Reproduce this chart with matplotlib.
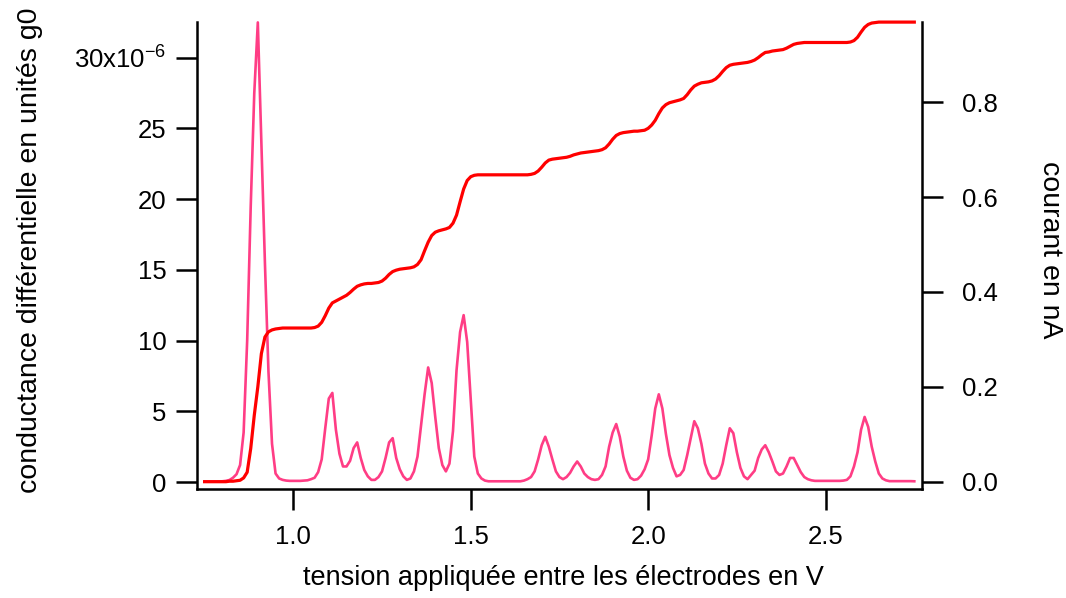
import numpy as np
import matplotlib
matplotlib.use("Agg")
import matplotlib.pyplot as plt
from matplotlib.ticker import FuncFormatter

plt.rcParams['font.family'] = ['Liberation Sans', 'DejaVu Sans']
plt.rcParams['mathtext.default'] = 'regular'

# bias sweep, 10 mV step
voltage = np.linspace(0.75, 2.75, 201)

# differential conductance, in units of 1e-6 g0
conductance = [
    0.03, 0.03, 0.03, 0.03, 0.04, 0.05, 0.08, 0.14, 0.3, 0.55,
    1.2, 3.5, 10.0, 19.5, 27.5, 32.5, 24.0, 15.5, 7.8, 2.7,
    0.6, 0.25, 0.15, 0.1, 0.08, 0.08, 0.08, 0.08, 0.1, 0.12,
    0.2, 0.3, 0.7, 1.6, 3.8, 5.9, 6.3, 3.7, 2.0, 1.1,
    1.1, 1.5, 2.4, 2.8, 1.7, 0.85, 0.4, 0.15, 0.15, 0.35,
    0.75, 1.7, 2.8, 3.1, 1.7, 0.9, 0.4, 0.15, 0.25, 0.75,
    1.8, 4.0, 6.2, 8.1, 7.0, 4.6, 2.4, 1.2, 0.75, 1.3,
    3.6, 7.9, 10.6, 11.8, 9.9, 5.8, 1.8, 0.6, 0.25, 0.1,
    0.05, 0.05, 0.05, 0.05, 0.05, 0.05, 0.05, 0.05, 0.05, 0.05,
    0.1, 0.2, 0.35, 0.75, 1.6, 2.6, 3.2, 2.5, 1.6, 0.75,
    0.35, 0.2, 0.35, 0.65, 1.1, 1.45, 1.1, 0.6, 0.35, 0.2,
    0.15, 0.2, 0.5, 1.1, 2.5, 3.5, 4.1, 3.2, 1.8, 0.8,
    0.3, 0.15, 0.2, 0.45, 0.9, 1.6, 3.3, 5.2, 6.2, 5.2,
    3.4, 1.9, 1.0, 0.4, 0.5, 0.85, 1.9, 3.1, 4.3, 3.8,
    2.7, 1.3, 0.6, 0.25, 0.25, 0.5, 1.3, 2.6, 3.8, 3.45,
    2.1, 1.0, 0.4, 0.2, 0.5, 0.8, 1.7, 2.3, 2.6, 2.1,
    1.45, 0.75, 0.5, 0.6, 1.1, 1.7, 1.7, 1.2, 0.7, 0.35,
    0.2, 0.12, 0.08, 0.08, 0.08, 0.08, 0.08, 0.08, 0.08, 0.08,
    0.1, 0.15, 0.4, 1.1, 2.1, 3.7, 4.6, 3.9, 2.5, 1.45,
    0.6, 0.25, 0.12, 0.06, 0.06, 0.06, 0.06, 0.06, 0.06, 0.06,
    0.05,
]

# current through the junction, nA
current = [
    0.0, 0.0, 0.0, 0.0, 0.0, 0.0, 0.0, 0.001, 0.001, 0.002,
    0.003, 0.008, 0.02, 0.07, 0.14, 0.20, 0.27, 0.305, 0.316, 0.32,
    0.322, 0.323, 0.324, 0.324, 0.324, 0.324, 0.324, 0.324, 0.324, 0.324,
    0.324, 0.325, 0.328, 0.336, 0.35, 0.366, 0.377, 0.381, 0.385, 0.389,
    0.393, 0.399, 0.406, 0.412, 0.415, 0.417, 0.418, 0.418, 0.419, 0.42,
    0.423, 0.429, 0.437, 0.443, 0.446, 0.448, 0.449, 0.45, 0.451, 0.453,
    0.458, 0.468, 0.487, 0.505, 0.519, 0.526, 0.529, 0.531, 0.533, 0.536,
    0.545, 0.562, 0.59, 0.617, 0.635, 0.643, 0.646, 0.647, 0.647, 0.647,
    0.647, 0.647, 0.647, 0.647, 0.647, 0.647, 0.647, 0.647, 0.647, 0.647,
    0.647, 0.647, 0.648, 0.65, 0.655, 0.663, 0.672, 0.678, 0.68, 0.681,
    0.682, 0.683, 0.684, 0.686, 0.689, 0.691, 0.693, 0.694, 0.695, 0.696,
    0.697, 0.698, 0.700, 0.704, 0.712, 0.722, 0.73, 0.734, 0.736, 0.737,
    0.738, 0.739, 0.739, 0.740, 0.741, 0.745, 0.752, 0.762, 0.776, 0.788,
    0.795, 0.799, 0.801, 0.803, 0.805, 0.808, 0.816, 0.826, 0.834, 0.838,
    0.841, 0.842, 0.843, 0.845, 0.849, 0.856, 0.865, 0.873, 0.878, 0.88,
    0.881, 0.882, 0.883, 0.884, 0.886, 0.889, 0.894, 0.9, 0.905, 0.906,
    0.908, 0.909, 0.91, 0.911, 0.914, 0.918, 0.922, 0.924, 0.925, 0.926,
    0.926, 0.926, 0.926, 0.926, 0.926, 0.926, 0.926, 0.926, 0.926, 0.926,
    0.926, 0.926, 0.927, 0.93, 0.937, 0.948, 0.958, 0.964, 0.967, 0.968,
    0.969, 0.969, 0.969, 0.969, 0.969, 0.969, 0.969, 0.969, 0.969, 0.969,
    0.969,
]

x_ticks = [1.0, 1.5, 2.0, 2.5]
g_ticks = [0, 5, 10, 15, 20, 25, 30]
i_ticks = [0.0, 0.2, 0.4, 0.6, 0.8]

pink = '#ff3d85'

fig = plt.figure(figsize=(10.66, 5.98), dpi=100)
ax = fig.add_axes([197 / 1066, 1 - 489 / 598, 725 / 1066, 467 / 598])
ax2 = ax.twinx()

ax.plot(voltage, conductance, color=pink, lw=1.9, clip_on=False)
ax2.plot(voltage, current, color='red', lw=2.3, clip_on=False)

ax.set_xlim(0.7286, 2.7717)
ax.set_ylim(-0.495, 32.53)
ax2.set_ylim(-0.0154, 0.9692)

ax.set_xticks(x_ticks)
ax.xaxis.set_major_formatter(FuncFormatter(lambda v, _: f'{v:.1f}'))
ax.set_yticks(g_ticks)
ax.yaxis.set_major_formatter(
    FuncFormatter(lambda v, _: '30x10$^{-6}$' if v == 30 else f'{v:g}'))
ax2.set_yticks(i_ticks)
ax2.yaxis.set_major_formatter(FuncFormatter(lambda v, _: f'{v:.1f}'))

for a in (ax, ax2):
    a.spines['top'].set_visible(False)
    for s in a.spines.values():
        s.set_linewidth(1.8)
ax.spines['right'].set_visible(False)
ax2.spines['left'].set_visible(False)
ax2.spines['bottom'].set_visible(False)

ax.tick_params(axis='x', direction='out', length=15, width=1.8, labelsize=18.5, pad=11)
ax.tick_params(axis='y', direction='out', length=15, width=1.8, labelsize=18.5, pad=7)
ax2.tick_params(axis='y', direction='out', length=15, width=1.8, labelsize=18.5, pad=14)

fig.text(563 / 1066, 1 - 578 / 598, 'tension appliquée entre les électrodes en V',
         fontsize=19.5, ha='center', va='center')
fig.text(30 / 1066, 1 - 250 / 598, 'conductance différentielle en unités g0',
         fontsize=20.5, ha='center', va='center', rotation=90)
fig.text(1050 / 1066, 1 - 250 / 598, 'courant en nA',
         fontsize=20.5, ha='center', va='center', rotation=270)

fig.savefig('out.png', dpi=100)
